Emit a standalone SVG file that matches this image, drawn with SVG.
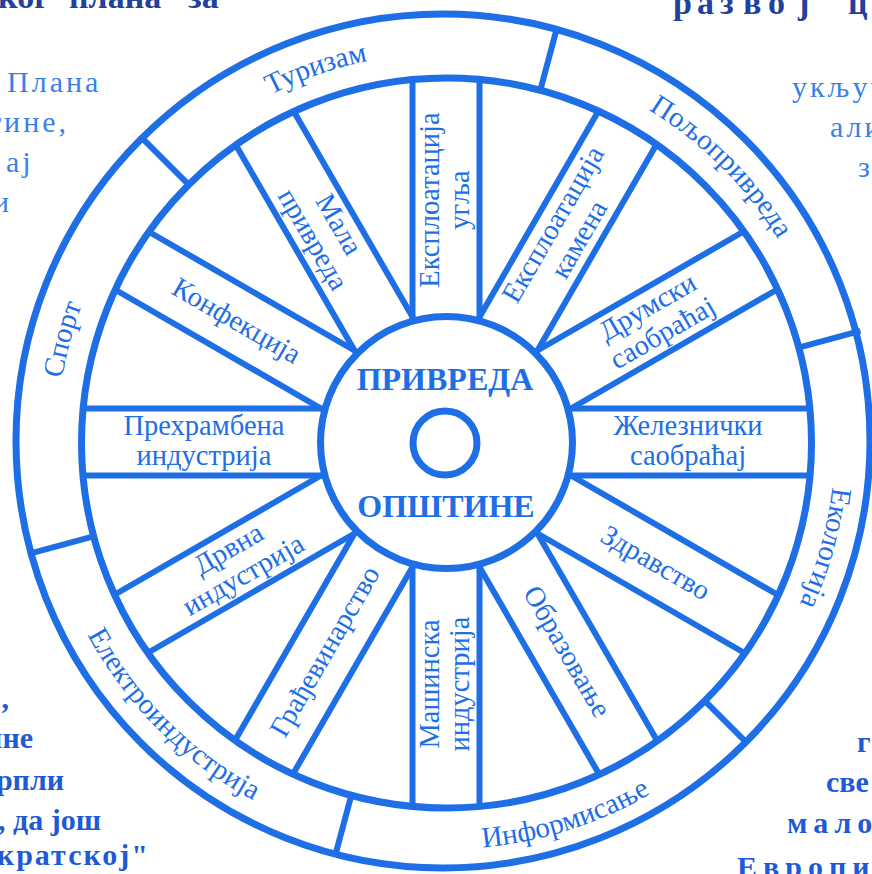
<svg xmlns="http://www.w3.org/2000/svg" xmlns:xlink="http://www.w3.org/1999/xlink" width="872" height="874" viewBox="0 0 872 874">
<style>
.ln{stroke:#1e6ee6;stroke-width:6;fill:none}
.rg{stroke:#1e6ee6;stroke-width:7;fill:none}
.lb{font-family:"Liberation Serif","Times New Roman",serif;font-size:28.5px;fill:#1e6ee6;text-anchor:middle}
.rl{font-family:"Liberation Serif","Times New Roman",serif;font-size:29px;fill:#1e6ee6;text-anchor:middle}
.ct{font-family:"Liberation Serif","Times New Roman",serif;font-size:32px;font-weight:bold;fill:#1e6ee6;text-anchor:middle}
.pg{font-family:"Liberation Serif","Times New Roman",serif;font-size:30px;fill:#3a80e8;letter-spacing:3px}
.pb{font-family:"Liberation Serif","Times New Roman",serif;font-size:30px;font-weight:bold;fill:#1f5ad6}
.pd{font-family:"Liberation Serif","Times New Roman",serif;font-size:34px;font-weight:bold;fill:#22409e}
</style>
<defs>
<path id="bandR" d="M121.5 -33.5H363.5M121.5 33.5H363.5"/>
<path id="bandL" d="M-121.5 -33.5H-363.5M-121.5 33.5H-363.5"/>
<path id="p-tur" d="M170.93 166.93A389 389 0 0 1 546.68 66.26"/>
<path id="p-pol" d="M546.68 66.26A389 389 0 0 1 821.74 341.32"/>
<path id="p-eko" d="M821.74 341.32A389 389 0 0 1 721.07 717.07"/>
<path id="p-spo" d="M70.26 542.68A389 389 0 0 1 170.93 166.93"/>
<path id="p-inf" d="M340.66 835.13A407 407 0 0 0 733.79 729.79"/>
<path id="p-ele" d="M52.87 547.34A407 407 0 0 0 340.66 835.13"/>
</defs>

<!-- page text fragments -->
<g id="page-text">
<text class="pd" x="-2" y="8">ког</text>
<text class="pd" x="69" y="8">плана</text>
<text class="pd" x="188" y="8">за</text>
<text class="pd" font-size="30" x="673 697 720 743 768 798 822 848" y="14">развој ц</text>
<text class="pg" x="7" y="92">Плана</text>
<text class="pg" x="-12" y="132">тине,</text>
<text class="pg" x="6" y="172" letter-spacing="6">ај</text>
<text class="pg" x="-7" y="212">и</text>
<text class="pg" x="792" y="97">укључ</text>
<text class="pg" x="830" y="137">али</text>
<text class="pg" x="858" y="177">з</text>
<text class="pb" x="9" y="708" text-anchor="end">,</text>
<text class="pb" x="33" y="748" text-anchor="end">ине</text>
<text class="pb" x="64" y="790" text-anchor="end">рпли</text>
<text class="pb" x="101" y="830" text-anchor="end">, да још</text>
<text class="pb" x="150" y="865" text-anchor="end" letter-spacing="2">кратској"</text>
<text class="pb" font-size="33" x="857" y="752">г</text>
<text class="pb" font-size="33" x="826" y="792">све</text>
<text class="pb" font-size="33" x="787" y="833" letter-spacing="6">мало</text>
<text class="pb" font-size="33" x="737" y="877" letter-spacing="6">Европи</text>
</g>

<!-- wheel rims -->
<g id="wheel">
<circle class="rg" cx="443" cy="441" r="427"/>
<circle class="rg" cx="446.5" cy="443" r="365"/>
</g>

<!-- outer ring segments -->
<g id="ring-dividers">
<line class="ln" x1="540.47" y1="89.43" x2="557.03" y2="27.63"/>
<line class="ln" x1="798.57" y1="347.53" x2="860.37" y2="330.97"/>
<line class="ln" x1="704.09" y1="700.09" x2="747.35" y2="743.35"/>
<line class="ln" x1="351.53" y1="794.57" x2="335.5" y2="854.37"/>
<line class="ln" x1="93.43" y1="536.47" x2="31.63" y2="553.03"/>
<line class="ln" x1="187.91" y1="183.91" x2="142.65" y2="138.65"/>
</g>
<g id="seg-turizam"><text class="rl"><textPath href="#p-tur" xlink:href="#p-tur" startOffset="43%">Туризам</textPath></text></g>
<g id="seg-poljoprivreda"><text class="rl"><textPath href="#p-pol" xlink:href="#p-pol" startOffset="50%">Пољопривреда</textPath></text></g>
<g id="seg-ekologija"><text class="rl"><textPath href="#p-eko" xlink:href="#p-eko" startOffset="51%">Екологија</textPath></text></g>
<g id="seg-informisanje"><text class="rl"><textPath href="#p-inf" xlink:href="#p-inf" startOffset="54.5%">Информисање</textPath></text></g>
<g id="seg-elektroindustrija"><text class="rl"><textPath href="#p-ele" xlink:href="#p-ele" startOffset="50%">Електроиндустрија</textPath></text></g>
<g id="seg-sport"><text class="rl"><textPath href="#p-spo" xlink:href="#p-spo" startOffset="50%">Спорт</textPath></text></g>

<!-- bands (spokes) -->
<g id="band-ugalj" transform="translate(446 442) rotate(-90)">
<use href="#bandR" xlink:href="#bandR" class="ln"/>
<text class="lb" x="242" y="-7">Експлоатација</text>
<text class="lb" x="242" y="23">угља</text>
</g>
<g id="band-kamen" transform="translate(446 442) rotate(-60)">
<use href="#bandR" xlink:href="#bandR" class="ln"/>
<text class="lb" x="242" y="-7">Експлоатација</text>
<text class="lb" x="242" y="23">камена</text>
</g>
<g id="band-drumski" transform="translate(446 442) rotate(-30)">
<use href="#bandR" xlink:href="#bandR" class="ln"/>
<text class="lb" x="242" y="-7">Друмски</text>
<text class="lb" x="242" y="23">саобраћај</text>
</g>
<g id="band-zeleznicki" transform="translate(446 442)">
<use href="#bandR" xlink:href="#bandR" class="ln"/>
<text class="lb" x="242" y="-7">Железнички</text>
<text class="lb" x="242" y="23">саобраћај</text>
</g>
<g id="band-zdravstvo" transform="translate(446 442) rotate(30)">
<use href="#bandR" xlink:href="#bandR" class="ln"/>
<text class="lb" x="242" y="9">Здравство</text>
</g>
<g id="band-obrazovanje" transform="translate(446 442) rotate(60)">
<use href="#bandR" xlink:href="#bandR" class="ln"/>
<text class="lb" x="242" y="9">Образовање</text>
</g>
<g id="band-masinska" transform="translate(446 442) rotate(-90)">
<use href="#bandL" xlink:href="#bandL" class="ln"/>
<text class="lb" x="-242" y="-7">Машинска</text>
<text class="lb" x="-242" y="23">индустрија</text>
</g>
<g id="band-gradjevinarstvo" transform="translate(446 442) rotate(-60)">
<use href="#bandL" xlink:href="#bandL" class="ln"/>
<text class="lb" x="-242" y="9">Грађевинарство</text>
</g>
<g id="band-drvna" transform="translate(446 442) rotate(-30)">
<use href="#bandL" xlink:href="#bandL" class="ln"/>
<text class="lb" x="-242" y="-7">Дрвна</text>
<text class="lb" x="-242" y="23">индустрија</text>
</g>
<g id="band-prehrambena" transform="translate(446 442)">
<use href="#bandL" xlink:href="#bandL" class="ln"/>
<text class="lb" x="-242" y="-7">Прехрамбена</text>
<text class="lb" x="-242" y="23">индустрија</text>
</g>
<g id="band-konfekcija" transform="translate(446 442) rotate(30)">
<use href="#bandL" xlink:href="#bandL" class="ln"/>
<text class="lb" x="-242" y="9">Конфекција</text>
</g>
<g id="band-mala" transform="translate(446 442) rotate(60)">
<use href="#bandL" xlink:href="#bandL" class="ln"/>
<text class="lb" x="-242" y="-7">Мала</text>
<text class="lb" x="-242" y="23">привреда</text>
</g>

<!-- hub -->
<g id="hub">
<circle class="rg" cx="446.5" cy="442.5" r="126" fill="#ffffff"/>
<circle class="rg" cx="445" cy="443" r="32"/>
<text class="ct" x="445" y="390">ПРИВРЕДА</text>
<text class="ct" x="446" y="517">ОПШТИНЕ</text>
</g>
</svg>
